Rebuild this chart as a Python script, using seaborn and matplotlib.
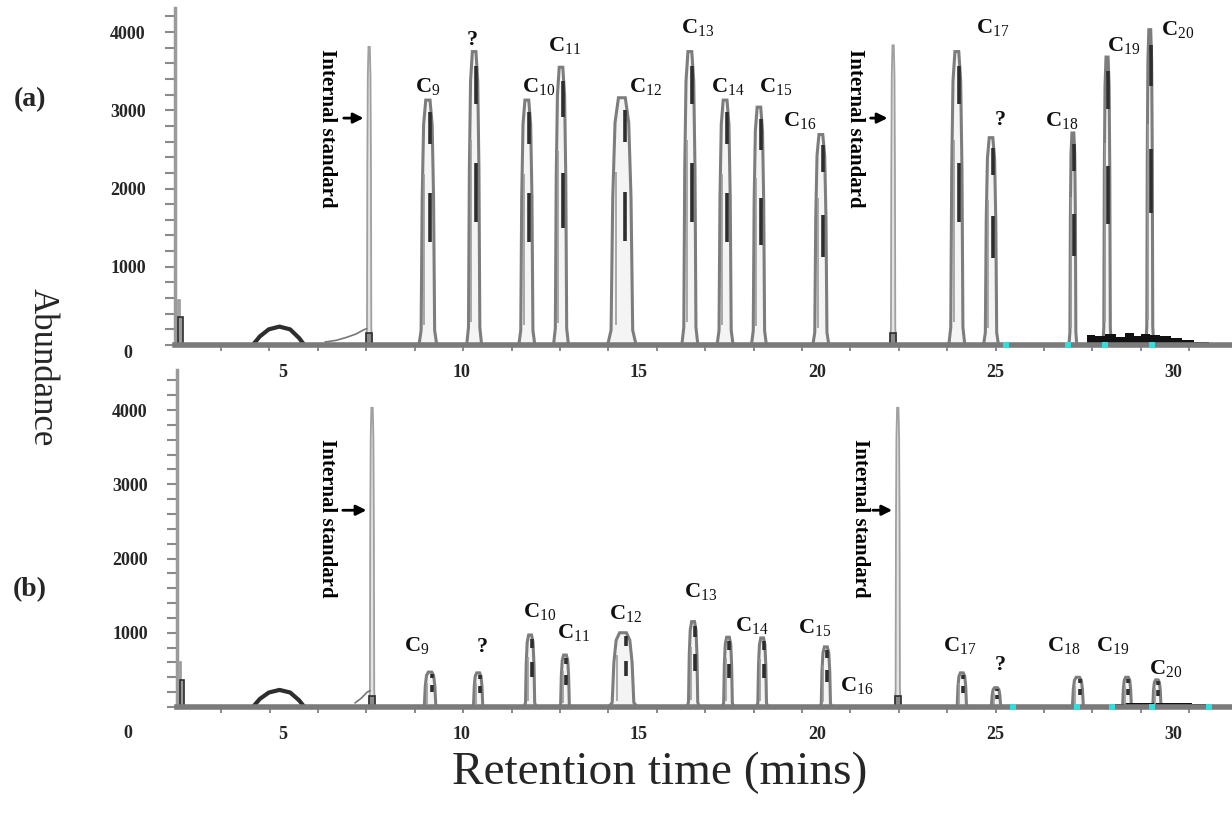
import numpy as np
import matplotlib
matplotlib.use("Agg")
import matplotlib.pyplot as plt
import seaborn as sns
from matplotlib.ticker import MultipleLocator, FixedLocator

sns.set_theme(style="white")
plt.rcParams['font.family'] = ['Liberation Serif', 'DejaVu Serif']
plt.rcParams['mathtext.fontset'] = 'custom'
plt.rcParams['mathtext.rm'] = 'Liberation Serif'
plt.rcParams['mathtext.it'] = 'Liberation Serif:italic'
plt.rcParams['mathtext.bf'] = 'Liberation Serif:bold'

# ---- data (retention time in min, abundance) ----
x_ticks = [5, 10, 15, 20, 25, 30]
y_ticks = [0, 1000, 2000, 3000, 4000]

peak_names = ["C$_{9}$", "?", "C$_{10}$", "C$_{11}$", "C$_{12}$", "C$_{13}$", "C$_{14}$",
              "C$_{15}$", "C$_{16}$", "C$_{17}$", "?", "C$_{18}$", "C$_{19}$", "C$_{20}$"]

# (a)
a_peak_t = [9.07, 10.37, 11.85, 12.81, 14.52, 16.43, 17.42, 18.37, 20.11, 23.93, 24.89, 27.19, 28.15, 29.35]
a_peak_h = [3130, 3750, 3130, 3550, 3160, 3750, 3130, 3040, 2690, 3750, 2650, 2710, 3680, 4030]
a_peak_w = [0.50, 0.42, 0.45, 0.42, 0.80, 0.45, 0.45, 0.42, 0.45, 0.45, 0.42, 0.22, 0.24, 0.22]
a_label_t = [9.07, 10.31, 12.19, 12.92, 15.17, 16.66, 17.50, 18.85, 19.52, 24.94, 25.14, 26.88, 28.62, 30.14]
a_label_y = [3300, 3900, 3300, 3830, 3300, 4060, 3300, 3300, 2875, 4060, 2875, 2875, 3830, 4030]
a_std_t = [7.42, 22.14]
a_std_h = [3810, 3830]
a_std_text_t = [6.24, 21.07]
a_arrow_tail = [6.63, 21.43]
a_arrow_y = 2900
a_std_text_y = 2770
a_first_t = [2.08, 2.12]
a_first_h = [575, 360]
a_hump_t = [4.15, 4.35, 4.6, 4.9, 5.2, 5.45, 5.6]
a_hump_y = [0, 110, 200, 235, 200, 90, 0]
a_rise_t = [6.18, 6.5, 6.8, 7.05, 7.25, 7.35]
a_rise_y = [38, 60, 100, 140, 190, 210]
a_noise_t = [27.5, 27.7, 27.9, 28.3, 28.5, 28.8, 29.0, 29.2, 29.5, 29.8, 30.1, 30.4, 30.8, 31.2, 31.7]
a_noise_y = [0, 130, 110, 140, 100, 150, 120, 140, 130, 110, 90, 60, 40, 20, 10]
a_cyan_t = [25.3, 27.05, 28.1, 29.4]

# (b)
b_peak_t = [9.13, 10.48, 11.94, 12.92, 14.55, 16.52, 17.50, 18.46, 20.25, 24.07, 25.03, 27.33, 28.71, 29.55]
b_peak_h = [470, 460, 970, 700, 1000, 1150, 940, 930, 810, 460, 260, 400, 400, 365]
b_peak_w = [0.42, 0.34, 0.34, 0.32, 0.80, 0.34, 0.32, 0.32, 0.34, 0.34, 0.34, 0.40, 0.32, 0.30]
b_label_t = [8.74, 10.59, 12.22, 13.17, 14.61, 16.74, 18.17, 19.94, 21.12, 24.02, 25.14, 26.94, 28.31, 29.78]
b_label_y = [835, 808, 1280, 1010, 1266, 1549, 1104, 1077, 296, 835, 566, 835, 835, 525]
b_std_t = [7.50, 22.27]
b_std_h = [4030, 4030]
b_std_text_t = [6.24, 21.21]
b_arrow_tail = [6.60, 21.49]
b_arrow_y = 2650
b_std_text_y = 2545
b_first_t = [2.12, 2.16]
b_first_h = [606, 364]
b_hump_t = [4.15, 4.35, 4.6, 4.9, 5.2, 5.45, 5.6]
b_hump_y = [0, 110, 195, 230, 195, 90, 0]
b_rise_t = [7.02, 7.2, 7.36, 7.45]
b_rise_y = [54, 120, 200, 220]
b_noise_t = [28.0, 28.4, 28.9, 29.3, 29.8, 30.3, 30.8, 31.3, 31.7]
b_noise_y = [20, 40, 60, 50, 60, 50, 40, 30, 20]
b_cyan_t = [25.5, 27.3, 28.3, 29.4, 31.0]

W, H = 1232, 813
fig = plt.figure(figsize=(W / 100, H / 100), dpi=100)
ax_b = fig.add_axes([177 / W, 1 - 707 / H, (W - 177) / W, (707 - 370) / H])
ax_a = fig.add_axes([175 / W, 1 - 345 / H, (W - 175) / W, (345 - 8) / H])

edge = '#7d7d7d'
dark = '#2e2e2e'


def peak_outline(t, h, w):
    # chromatographic peak drawn as a narrow trace: foot, steep sides, narrow apex
    fx = [-0.5, -0.38, -0.32, -0.24, -0.12, 0.12, 0.24, 0.32, 0.38, 0.5]
    fy = [0, 0.06, 0.6, 0.9, 1, 1, 0.9, 0.6, 0.06, 0]
    return [t + f * w for f in fx], [f * h for f in fy]


def draw_panel(ax, peak_t, peak_h, peak_w, label_t, label_y, std_t, std_h, std_text_t,
               arrow_tail, arrow_y, std_text_y, first_t, first_h, hump_t, hump_y,
               rise_t, rise_y, noise_t, noise_y, cyan_t, ymax, xmin):
    for t, h, w in zip(peak_t, peak_h, peak_w):
        xs, ys = peak_outline(t, h, w)
        ax.fill(xs, ys, facecolor='#f4f4f4', edgecolor=edge, linewidth=2.2, zorder=3)
        # overlapping darker trace segments
        ax.vlines([t + 0.12 * w, t + 0.12 * w], [0.42 * h, 0.82 * h], [0.62 * h, 0.95 * h],
                  color=dark, linewidth=2.6, zorder=4)
        ax.vlines(t - 0.2 * w, 0.08 * h, 0.7 * h, color='#9a9a9a', linewidth=1.2, zorder=4)
    # internal standard spikes
    for t, h in zip(std_t, std_h):
        xs, ys = peak_outline(t, h, 0.16)
        ax.fill(xs, ys, facecolor='#e4e4e4', edgecolor='#a0a0a0', linewidth=1.3, zorder=3)
    ax.bar(std_t, [150, 150], width=0.18, color='#8a8a8a', edgecolor=dark, linewidth=1.2, zorder=4)
    # early spike at the start
    ax.bar(first_t[0], first_h[0], width=0.05, color='#cfcfcf', edgecolor='#9a9a9a', linewidth=1.2, zorder=3)
    ax.bar(first_t[1], first_h[1], width=0.12, color='#9a9a9a', edgecolor=dark, linewidth=1.2, zorder=3)

    sns.lineplot(x=hump_t, y=hump_y, ax=ax, color=dark, linewidth=3, zorder=3)
    sns.lineplot(x=rise_t, y=rise_y, ax=ax, color='#777777', linewidth=1.2, zorder=3)
    ax.fill_between(noise_t, 0, noise_y, step='mid', color='#111111', linewidth=0, zorder=3)
    sns.scatterplot(x=cyan_t, y=[5] * len(cyan_t), ax=ax, color='#33dddd', marker='s',
                    s=14, linewidth=0, zorder=6, clip_on=False)

    for name, lt, ly in zip(peak_names, label_t, label_y):
        ax.text(lt, ly, name, ha='center', va='center', fontsize=16, fontweight='bold',
                color='#111111', zorder=7)

    for tt, tx, hd in zip(std_text_t, arrow_tail, std_t):
        ax.text(tt, std_text_y, "Internal standard", rotation=270, ha='center', va='center',
                fontsize=15, fontweight='bold', color='black', zorder=7)
        ax.annotate('', xy=(hd - 0.08, arrow_y), xytext=(tx, arrow_y),
                    arrowprops=dict(arrowstyle='-|>', color='black', lw=2, mutation_scale=15),
                    zorder=7)

    ax.set_xlim(xmin, 31.66)
    ax.set_ylim(0, ymax)
    sns.despine(ax=ax, top=True, right=True)
    ax.spines['left'].set_color('#9a9a9a')
    ax.spines['left'].set_linewidth(2.5)
    ax.spines['bottom'].set_color('#7a7a7a')
    ax.spines['bottom'].set_linewidth(4)
    ax.spines['bottom'].set_zorder(5)

    # zero label is drawn separately below the baseline
    ax.set_yticks(y_ticks, [""] + [str(v) for v in y_ticks[1:]], fontsize=13, fontweight='bold')
    ax.yaxis.set_minor_locator(MultipleLocator(200))
    ax.tick_params(axis='y', which='both', direction='out', left=True, length=7, width=1.5,
                   color='#8a8a8a', pad=14)
    ax.set_xticks(x_ticks, [str(v) for v in x_ticks], fontsize=13, fontweight='bold')
    ax.xaxis.set_minor_locator(FixedLocator(np.arange(1.9, 31.7, 1.36)))
    ax.tick_params(axis='x', which='major', length=0, pad=14)
    ax.tick_params(axis='x', which='minor', direction='out', bottom=True, length=4, width=1.2,
                   color='#777777')
    ax.set_xlabel('')
    ax.set_ylabel('')
    ax.set_facecolor('none')


draw_panel(ax_a, a_peak_t, a_peak_h, a_peak_w, a_label_t, a_label_y, a_std_t, a_std_h,
           a_std_text_t, a_arrow_tail, a_arrow_y, a_std_text_y, a_first_t, a_first_h,
           a_hump_t, a_hump_y, a_rise_t, a_rise_y, a_noise_t, a_noise_y, a_cyan_t, 4307, 1.966)
draw_panel(ax_b, b_peak_t, b_peak_h, b_peak_w, b_label_t, b_label_y, b_std_t, b_std_h,
           b_std_text_t, b_arrow_tail, b_arrow_y, b_std_text_y, b_first_t, b_first_h,
           b_hump_t, b_hump_y, b_rise_t, b_rise_y, b_noise_t, b_noise_y, b_cyan_t, 4539, 2.02)

ax_a.annotate("0", xy=(0, 0), xycoords='axes fraction', xytext=(-47, -8),
              textcoords='offset pixels', ha='center', va='center', fontsize=13, fontweight='bold')
ax_b.annotate("0", xy=(0, 0), xycoords='axes fraction', xytext=(-49, -26),
              textcoords='offset pixels', ha='center', va='center', fontsize=13, fontweight='bold')

fig.text(30 / W, 1 - 100 / H, "(a)", ha='center', va='center', fontsize=20, fontweight='bold')
fig.text(30 / W, 1 - 590 / H, "(b)", ha='center', va='center', fontsize=20, fontweight='bold')
fig.text(42 / W, 1 - 367 / H, "Abundance", rotation=270, ha='center', va='center', fontsize=25)
fig.text(660 / W, 1 - 773 / H, "Retention time (mins)", ha='center', va='center', fontsize=34)

fig.savefig("out.png", dpi=100, facecolor='white')
